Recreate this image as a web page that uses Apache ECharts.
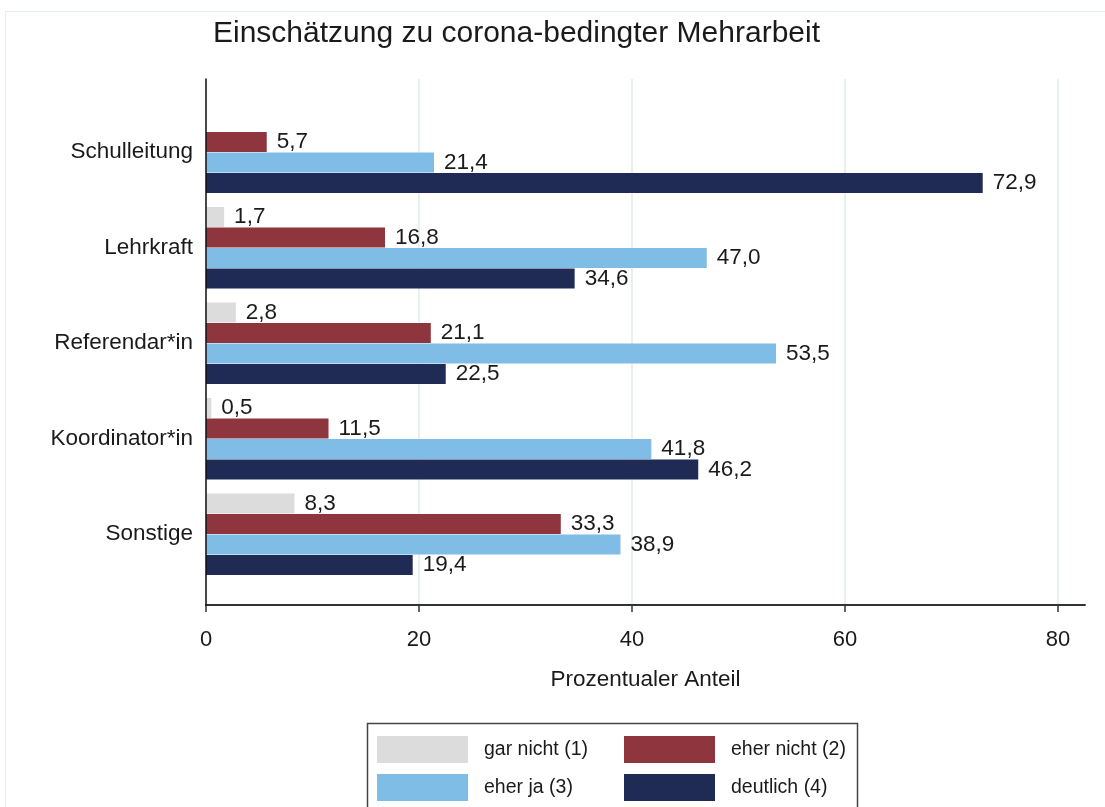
<!DOCTYPE html>
<html>
<head>
<meta charset="utf-8">
<script src="https://cdn.jsdelivr.net/npm/echarts@6/dist/echarts.min.js"></script>
<style>
    html, body { margin: 0; padding: 0; background: #fff; }
    #main { width: 1105px; height: 807px; }
</style>
</head>
<body>
<div id="main"></div>
<script>
// Kategorien (von oben nach unten)
var categories = ['Schulleitung', 'Lehrkraft', 'Referendar*in', 'Koordinator*in', 'Sonstige'];
var seriesNames = ['gar nicht (1)', 'eher nicht (2)', 'eher ja (3)', 'deutlich (4)'];
// Werte in Prozent
var garNicht = [null, 1.7, 2.8, 0.5, 8.3];
var eherNicht = [5.7, 16.8, 21.1, 11.5, 33.3];
var eherJa = [21.4, 47.0, 53.5, 41.8, 38.9];
var deutlich = [72.9, 34.6, 22.5, 46.2, 19.4];
var xTicks = [0, 20, 40, 60, 80];

var colors = ['#dcdcdc', '#8e353e', '#7fbde6', '#1f2b55'];
var font = "'Liberation Sans', Arial, sans-serif";

var chart = echarts.init(document.getElementById('main'));

function bar(name, data, color) {
    return {
        name: name,
        type: 'bar',
        xAxisIndex: 0,
        yAxisIndex: 0,
        data: data,
        barWidth: 20,
        barGap: '2.5%',
        itemStyle: {color: color},
        label: {
            show: true,
            position: 'right',
            distance: 10,
            color: '#1a1a1a',
            fontFamily: font,
            fontSize: 22.5,
            formatter: function (p) {
                return p.value == null ? '' : p.value.toFixed(1).replace('.', ',');
            }
        }
    };
}

// eine Legende je Eintrag, damit die Spalten genau stehen
function legendItem(name, left, top) {
    return {
        data: [name],
        left: left, top: top,
        padding: 0,
        itemWidth: 91, itemHeight: 27,
        icon: 'rect',
        selectedMode: false,
        textStyle: {fontFamily: font, fontSize: 19.5, color: '#1a1a1a', padding: [0, 0, 0, 11]}
    };
}

var option = {
    backgroundColor: '#fff',
    animation: false,
    title: {
        text: 'Einschätzung zu corona-bedingter Mehrarbeit',
        left: 208,
        top: 14,
        textStyle: {fontFamily: font, fontSize: 30, fontWeight: 'normal', color: '#1a1a1a'}
    },
    graphic: [
        {type: 'rect', shape: {x: 5.5, y: 11.5, width: 1200, height: 900},
            style: {fill: 'none', stroke: '#e6edf0', lineWidth: 1}},
        {type: 'rect', shape: {x: 367.5, y: 723.5, width: 490, height: 100},
            style: {fill: 'none', stroke: '#444', lineWidth: 1.5}}
    ],
    legend: [
        legendItem(seriesNames[0], 377, 736),
        legendItem(seriesNames[1], 624, 736),
        legendItem(seriesNames[2], 377, 774),
        legendItem(seriesNames[3], 624, 774)
    ],
    grid: [
        // Balken
        {left: 206, right: 20, top: 104.5, height: 477.5},
        // Achsenlinien
        {left: 206, right: 20, top: 79, bottom: 202},
        // Ticks, Beschriftung, Gitterlinien
        {left: 206, right: 47, top: 79, bottom: 202}
    ],
    xAxis: [
        {gridIndex: 0, type: 'value', min: 0, max: 82.5, show: false},
        {
            gridIndex: 1, type: 'value', min: 0, max: 82.5,
            axisLine: {show: true, lineStyle: {color: '#333', width: 2}},
            axisTick: {show: false}, axisLabel: {show: false}, splitLine: {show: false},
            name: 'Prozentualer Anteil', nameLocation: 'middle', nameGap: 63,
            nameTextStyle: {fontFamily: font, fontSize: 22.5, color: '#1a1a1a'}
        },
        {
            gridIndex: 2, type: 'value', min: xTicks[0], max: xTicks[xTicks.length - 1], interval: 20,
            axisLine: {show: false},
            axisTick: {show: true, length: 7, lineStyle: {color: '#333', width: 1.5}},
            axisLabel: {fontFamily: font, fontSize: 22, color: '#1a1a1a', margin: 24},
            splitLine: {show: true, lineStyle: {color: '#e0ebee', width: 1.5}}
        }
    ],
    yAxis: [
        {
            gridIndex: 0, type: 'category', data: categories, inverse: true,
            axisLine: {show: false}, axisTick: {show: false},
            axisLabel: {fontFamily: font, fontSize: 22.5, color: '#1a1a1a', margin: 13}
        },
        {
            gridIndex: 1, type: 'value', min: 0, max: 1, z: 5,
            axisLine: {show: true, lineStyle: {color: '#111', width: 1.5}},
            axisTick: {show: false}, axisLabel: {show: false}, splitLine: {show: false}
        },
        {gridIndex: 2, type: 'value', min: 0, max: 1, show: false}
    ],
    series: [
        bar(seriesNames[0], garNicht, colors[0]),
        bar(seriesNames[1], eherNicht, colors[1]),
        bar(seriesNames[2], eherJa, colors[2]),
        bar(seriesNames[3], deutlich, colors[3])
    ]
};

chart.setOption(option);
</script>
</body>
</html>
